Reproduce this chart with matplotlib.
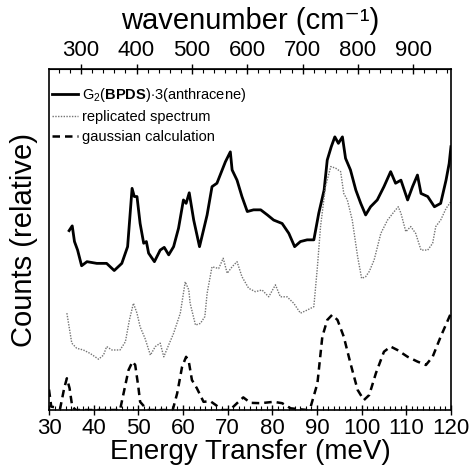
import matplotlib
matplotlib.use("Agg")
import matplotlib.pyplot as plt
from matplotlib.ticker import MultipleLocator, FixedLocator

plt.rcParams['font.family'] = ['Liberation Sans', 'DejaVu Sans']
plt.rcParams['mathtext.fontset'] = 'custom'
plt.rcParams['mathtext.rm'] = 'Liberation Sans'
plt.rcParams['mathtext.bf'] = 'Liberation Sans:bold'

# Measured spectrum G2(BPDS)·3(anthracene)
meas_E = [34.5, 35.2, 35.7, 36.4, 37.3, 38.5, 40.7, 42.9, 44.6, 46.3, 47.6, 48.6, 49.1, 49.7,
          50.4, 51.2, 51.8, 52.3, 53.6, 54.9, 55.8, 56.8, 57.9, 59.0, 60.1, 60.7, 61.4, 62.4,
          63.7, 64.6, 65.4, 66.5, 67.6, 69.5, 70.6, 71.0, 72.1, 73.2, 74.4, 75.8, 77.4, 78.9,
          80.3, 82.2, 83.7, 85.0, 86.3, 87.8, 89.3, 90.4, 91.6, 92.3, 93.2, 94.0, 94.8, 95.7,
          96.4, 97.5, 98.7, 99.8, 100.9, 102.0, 103.5, 105.0, 106.5, 107.6, 108.8, 110.3,
          111.4, 112.5, 113.3, 114.8, 116.3, 117.7, 118.9, 119.6, 120.0]
meas_I = [52.6, 54.0, 49.4, 46.9, 42.3, 43.5, 43.0, 43.0, 40.9, 43.0, 47.9, 65.0, 62.6, 62.6,
          54.7, 48.9, 49.4, 46.0, 43.5, 46.9, 47.7, 45.5, 47.9, 53.3, 61.6, 60.6, 63.7, 55.7,
          47.9, 52.8, 57.2, 65.5, 66.5, 72.8, 75.7, 70.4, 67.4, 62.6, 58.2, 58.7, 58.7, 57.2,
          55.7, 54.7, 51.8, 47.9, 49.4, 49.9, 49.9, 57.7, 64.5, 73.3, 77.2, 80.1, 78.2, 80.1,
          73.8, 70.4, 64.5, 60.6, 57.2, 59.6, 61.6, 65.5, 69.9, 66.5, 67.4, 61.6,
          65.5, 68.9, 63.5, 62.6, 59.6, 60.6, 67.4, 72.3, 77.2]

# Replicated spectrum
rep_E = [34.0, 34.5, 35.1, 36.2, 37.7, 39.2, 41.1, 42.2, 42.9, 44.1, 45.9, 47.1, 48.0, 48.9,
         49.7, 50.4, 51.5, 52.7, 53.8, 54.9, 55.7, 56.8, 57.9, 59.4, 60.5, 61.3, 61.6, 62.8,
         63.9, 64.9, 65.4, 66.5, 68.0, 69.0, 69.9, 71.0, 72.1, 73.2, 74.7, 76.2, 77.7, 79.2,
         80.7, 81.8, 83.3, 84.8, 86.3, 87.8, 89.3, 90.1, 90.8, 91.9, 93.1, 94.2, 95.3, 96.0,
         96.8, 97.9, 99.1, 100.0, 100.9, 101.7, 102.8, 104.3, 105.8, 107.3, 108.2, 108.8,
         109.9, 111.0, 112.1, 113.3, 114.8, 115.9, 116.6, 117.7, 118.9, 120.0]
rep_I = [28.4, 24.4, 19.6, 18.1, 17.6, 16.6, 14.9, 16.1, 18.6, 17.6, 17.6, 20.0, 26.4, 31.3,
         28.4, 24.4, 21.0, 16.1, 18.6, 19.6, 15.6, 19.1, 22.5, 28.4, 37.6, 35.2, 31.3, 24.9,
         25.4, 27.4, 34.2, 42.0, 41.5, 44.5, 40.1, 42.0, 43.5, 39.1, 35.7, 34.7, 35.2, 33.2,
         36.7, 33.2, 33.2, 31.3, 28.4, 29.3, 30.3, 42.0, 53.8, 65.5, 71.4, 70.9, 69.9, 63.5,
         61.6, 55.7, 45.0, 38.6, 39.1, 40.6, 44.0, 51.8, 55.7, 58.2, 59.6, 57.7,
         52.3, 53.8, 51.8, 46.9, 46.9, 48.9, 53.8, 55.7, 59.1, 61.1]

# Gaussian calculation
gau_E = [30.0, 30.5, 32.5, 33.4, 34.0, 34.6, 35.2, 36.0, 45.9, 46.7, 47.8, 48.7, 49.3, 50.0,
         50.4, 51.0, 52.0, 57.7, 58.7, 59.8, 60.7, 61.3, 62.0, 63.1, 64.6, 66.1, 67.3, 68.8,
         70.5, 72.1, 73.5, 75.1, 77.4, 80.3, 82.2, 84.1, 87.8, 88.6, 90.1, 91.2, 92.3, 93.4,
         94.6, 96.0, 97.5, 99.1, 100.5, 101.7, 103.2, 105.0, 106.5, 108.0, 110.3, 112.5,
         114.4, 115.9, 117.7, 120.0]
gau_I = [6.0, 1.0, 0.5, 6.4, 9.3, 6.4, 1.0, 0.0, 0.0, 4.9, 11.7, 14.2, 13.2, 6.8,
         2.4, 1.5, 0.0, 0.0, 4.9, 12.7, 15.6, 14.2, 8.8, 6.4, 2.4, 2.6, 1.5, 0.0,
         0.0, 2.0, 3.7, 2.1, 2.0, 2.4, 2.0, 0.5, 0.0, 1.0, 7.8, 21.5, 26.4, 27.9,
         26.4, 21.5, 13.7, 5.9, 2.9, 4.4, 10.8, 17.1, 18.6, 17.6, 15.6, 14.2,
         13.2, 15.6, 21.5, 28.4]

wn_ticks = [300, 400, 500, 600, 700, 800, 900]

fig = plt.figure(figsize=(4.69, 4.71), dpi=100)
ax = fig.add_axes([0.1045, 0.1295, 0.857, 0.724])

ax.plot(meas_E, meas_I, color='black', lw=2.0, label=r'G$_2$($\mathbf{BPDS}$)$\cdot$3(anthracene)')
ax.plot(rep_E, rep_I, color='0.45', lw=1.0, ls=(0, (1, 1)), label='replicated spectrum')
ax.plot(gau_E, gau_I, color='black', lw=1.8, ls=(0, (3, 2)), label='gaussian calculation')

ax.set_xlim(30, 120)
ax.set_ylim(0, 100)
ax.set_yticks([])
ax.xaxis.set_major_locator(MultipleLocator(10))
ax.xaxis.set_minor_locator(MultipleLocator(1.25))
ax.tick_params(axis='x', which='major', direction='inout', length=7, width=1, labelsize=16, pad=2)
ax.tick_params(axis='x', which='minor', direction='in', length=3, width=0.8)
for s in ax.spines.values():
    s.set_linewidth(1.2)

ax.set_xlabel('Energy Transfer (meV)', fontsize=20, labelpad=0)
ax.set_ylabel('Counts (relative)', fontsize=21, labelpad=8)

sec = ax.secondary_xaxis('top', functions=(lambda e: e * 8.0655, lambda w: w / 8.0655))
sec.xaxis.set_major_locator(FixedLocator(wn_ticks))
sec.xaxis.set_minor_locator(FixedLocator(list(range(260, 961, 20))))
sec.tick_params(axis='x', which='major', direction='inout', length=7, width=1, labelsize=16, pad=2)
sec.tick_params(axis='x', which='minor', direction='in', length=3, width=0.8)
sec.set_xlabel('wavenumber (cm\u207b\u00b9)', fontsize=21, labelpad=8,
               family=['Liberation Sans', 'DejaVu Sans'])

leg = ax.legend(loc='upper left', frameon=False, fontsize=10.5, handlelength=1.8,
                handletextpad=0.3, borderaxespad=0.2, labelspacing=0.4,
                bbox_to_anchor=(-0.015, 0.975))

fig.savefig('out.png', dpi=100)
